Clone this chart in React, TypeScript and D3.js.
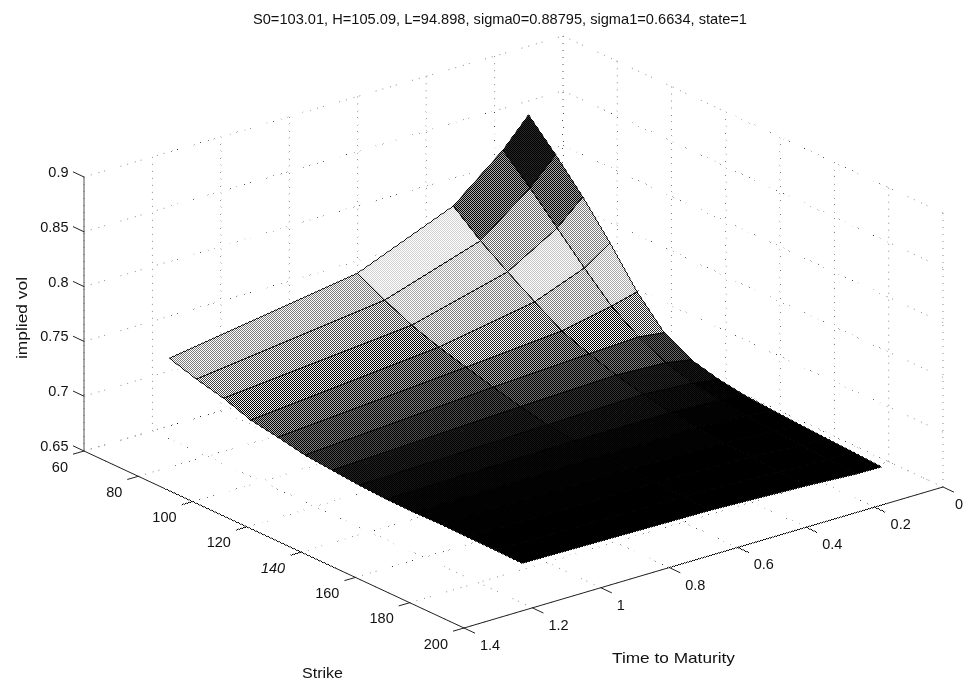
import React from "react";
import * as d3 from "d3";

// strike grid and maturities of the surface
const strikes = [70, 80, 90, 100, 110, 120, 130, 140, 150, 160, 170, 180, 190, 200];
const maturities = [0.18, 0.255, 0.4, 0.68, 1.23];

// implied vol, one row per strike, columns follow maturities
const vols = [
  [0.8561, 0.8308, 0.7932, 0.7576, 0.7305],
  [0.8312, 0.8077, 0.7729, 0.7445, 0.723],
  [0.8043, 0.7827, 0.7561, 0.7332, 0.7171],
  [0.7739, 0.7578, 0.7403, 0.7247, 0.7087],
  [0.7407, 0.7346, 0.7253, 0.7179, 0.7046],
  [0.715, 0.718, 0.7159, 0.7113, 0.6998],
  [0.7018, 0.706, 0.708, 0.705, 0.6976],
  [0.6956, 0.699, 0.702, 0.7, 0.6954],
  [0.692, 0.695, 0.697, 0.697, 0.6942],
  [0.6903, 0.692, 0.695, 0.695, 0.6939],
  [0.6887, 0.69, 0.692, 0.694, 0.6945],
  [0.6874, 0.689, 0.691, 0.6935, 0.6941],
  [0.6862, 0.687, 0.689, 0.692, 0.6939],
  [0.6849, 0.6852, 0.6878, 0.6913, 0.6935],
];

const strikeTicks = [60, 80, 100, 120, 140, 160, 180, 200];
const timeTicks = [0, 0.2, 0.4, 0.6, 0.8, 1, 1.2, 1.4];
const volTicks = [0.65, 0.7, 0.75, 0.8, 0.85, 0.9];

// colormap position -> gray level, a jet map printed in grayscale
const mapStops = [0, 0.05, 0.125, 0.375, 0.625, 0.875, 1];
const mapGrays = [0, 0, 0.08, 0.7, 0.93, 0.28, 0.08];

const titleText = "S0=103.01, H=105.09, L=94.898, sigma0=0.88795, sigma1=0.6634, state=1";

// the box is an oblique projection, each axis adds its own screen offset
const ORIGIN = { x: 84, y: 451 };
const kx = d3.scaleLinear().domain([60, 200]).range([0, 380]);
const ky = d3.scaleLinear().domain([60, 200]).range([0, 177]);
const tx = d3.scaleLinear().domain([1.4, 0]).range([0, 479]);
const ty = d3.scaleLinear().domain([1.4, 0]).range([0, -141]);
const zy = d3.scaleLinear().domain([0.65, 0.9]).range([0, -274]);

const project = (k: number, t: number, z: number): [number, number] => [
  ORIGIN.x + kx(k) + tx(t),
  ORIGIN.y + ky(k) + ty(t) + zy(z),
];

const K0 = 60, K1 = 200, T0 = 0, T1 = 1.4, Z0 = 0.65, Z1 = 0.9;

const volPos = d3.scaleLinear().domain([0.685, 0.856]).range([0, 1]).clamp(true);
const grayScale = d3.scaleLinear<number>().domain(mapStops).range(mapGrays);
const faceColor = (z: number) => {
  const g = Math.round(grayScale(volPos(z)) * 255);
  return `rgb(${g},${g},${g})`;
};

const line3 = d3.line();
const FONT = "'Liberation Sans', Arial, sans-serif";

function Grid3({ a, b, dash }: { a: [number, number, number]; b: [number, number, number]; dash: string }) {
  return (
    <path
      d={line3([project(...a), project(...b)]) as string}
      fill="none"
      stroke="#8a8a8a"
      strokeWidth={1}
      strokeDasharray={dash}
    />
  );
}

const DASH_UP = "1 6";
const DASH_ACROSS = "1 6 1 7 1 5 1 16";

export default function App() {
  const faces: React.ReactNode[] = [];
  strikes.slice(0, -1).forEach((k, i) => {
    maturities.slice(0, -1).forEach((t, j) => {
      const pts = [
        project(k, t, vols[i][j]),
        project(strikes[i + 1], t, vols[i + 1][j]),
        project(strikes[i + 1], maturities[j + 1], vols[i + 1][j + 1]),
        project(k, maturities[j + 1], vols[i][j + 1]),
      ] as [number, number][];
      faces.push(
        <path
          key={`${k}-${t}`}
          d={(line3(pts) as string) + "Z"}
          fill={faceColor(vols[i][j])}
          stroke="#000"
          strokeWidth={0.9}
          strokeLinejoin="round"
        />
      );
    });
  });

  return (
    <svg
      width={964}
      height={685}
      style={{ position: "absolute", left: 0, top: 0, background: "#fff" }}
      fontFamily={FONT}
      fontSize={14.5}
      fill="#111"
    >
      <defs>
        {/* print halftone, blended over the faces */}
        <pattern id="halftone" width={2} height={2} patternUnits="userSpaceOnUse">
          <rect width={2} height={2} fill="#fff" />
          <rect width={1} height={1} fill="#000" shapeRendering="crispEdges" />
          <rect x={1} y={1} width={1} height={1} fill="#000" shapeRendering="crispEdges" />
        </pattern>
      </defs>

      <text x={253} y={24} fontSize={14.5} textLength={494} lengthAdjust="spacingAndGlyphs">{titleText}</text>

      {/* dotted grid on the floor and the two back walls */}
      <g>
        {strikeTicks.map((k) => (
          <g key={`gk${k}`}>
            <Grid3 a={[k, T1, Z0]} b={[k, T0, Z0]} dash={DASH_ACROSS} />
            <Grid3 a={[k, T0, Z0]} b={[k, T0, Z1]} dash={DASH_UP} />
          </g>
        ))}
        {timeTicks.map((t) => (
          <g key={`gt${t}`}>
            <Grid3 a={[K1, t, Z0]} b={[K0, t, Z0]} dash={DASH_ACROSS} />
            <Grid3 a={[K0, t, Z0]} b={[K0, t, Z1]} dash={DASH_UP} />
          </g>
        ))}
        {volTicks.map((z) => (
          <g key={`gz${z}`}>
            <Grid3 a={[K0, T1, z]} b={[K0, T0, z]} dash={DASH_ACROSS} />
            <Grid3 a={[K0, T0, z]} b={[K1, T0, z]} dash={DASH_ACROSS} />
          </g>
        ))}
      </g>

      {/* axes */}
      <g stroke="#222" strokeWidth={1} fill="none">
        <path d={line3([project(K0, T1, Z0), project(K1, T1, Z0)]) as string} />
        <path d={line3([project(K1, T1, Z0), project(K1, T0, Z0)]) as string} />
        <path stroke="#555" d={line3([project(K0, T1, Z0), project(K0, T1, Z1)]) as string} />
        {strikeTicks.map((k) => {
          const [x, y] = project(k, T1, Z0);
          return <path key={k} d={`M${x},${y}L${x - 11},${y + 3.2}`} />;
        })}
        {timeTicks.map((t) => {
          const [x, y] = project(K1, t, Z0);
          return <path key={t} d={`M${x},${y}L${x + 11},${y + 5.2}`} />;
        })}
        {volTicks.map((z) => {
          const [x, y] = project(K0, T1, z);
          return <path key={z} d={`M${x},${y}L${x - 11},${y - 5.2}`} />;
        })}
      </g>

      {/* surface, back cells first */}
      <g>{faces}</g>
      <rect
        x={165}
        y={110}
        width={722}
        height={458}
        fill="url(#halftone)"
        style={{ mixBlendMode: "overlay" }}
      />

      {/* tick labels */}
      {strikeTicks.map((k) => {
        const [x, y] = project(k, T1, Z0);
        return (
          <text key={k} x={x - 16} y={y + 20.5} textAnchor="end" fontStyle={k === 140 ? "italic" : "normal"}>
            {k}
          </text>
        );
      })}
      {timeTicks.map((t) => {
        const [x, y] = project(K1, t, Z0);
        // the last label sits against the page edge
        return (
          <text key={t} x={Math.min(x + 16, 955)} y={y + 22}>{t}</text>
        );
      })}
      {volTicks.map((z) => {
        const [x, y] = project(K0, T1, z);
        return (
          <text key={z} x={x - 15.5} y={y} textAnchor="end">{z}</text>
        );
      })}

      <text x={302} y={678} fontSize={15} textLength={41} lengthAdjust="spacingAndGlyphs">Strike</text>
      <text x={612} y={663} fontSize={15} textLength={123} lengthAdjust="spacingAndGlyphs">Time to Maturity</text>
      <text transform="translate(27,359) rotate(-90)" fontSize={15} textLength={82} lengthAdjust="spacingAndGlyphs">implied vol</text>
    </svg>
  );
}
